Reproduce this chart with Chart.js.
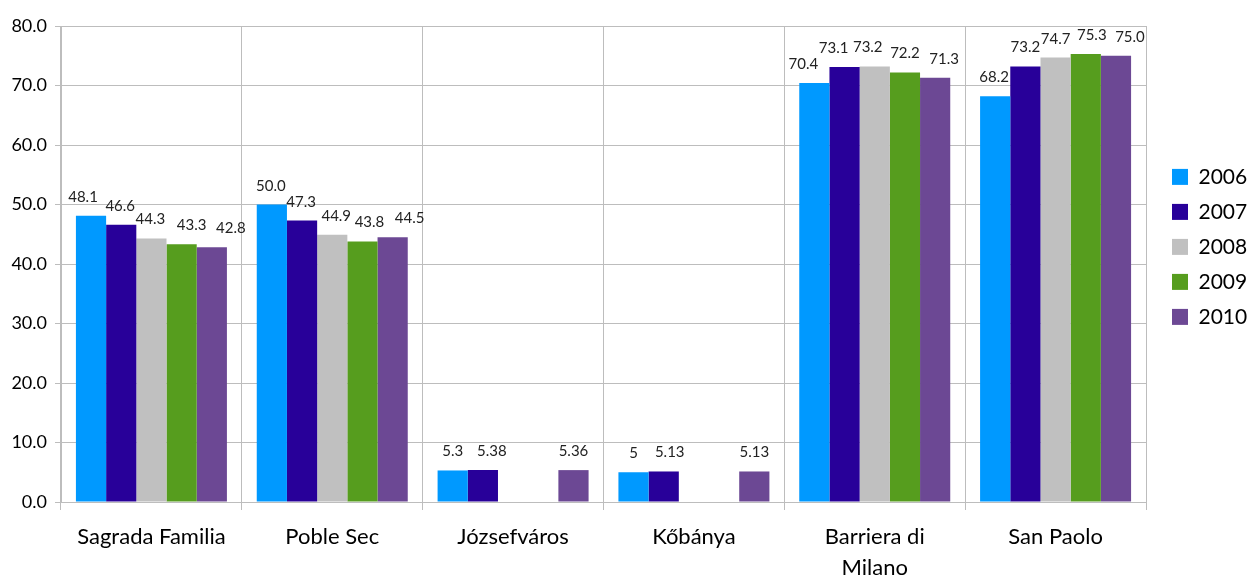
<!DOCTYPE html>
<html>
<head>
<meta charset="utf-8">
<script src="https://cdn.jsdelivr.net/npm/chart.js@4/dist/chart.umd.min.js"></script>
<style>
  html, body { margin: 0; padding: 0; background: #fff; }
  #wrap { width: 1248px; height: 576px; }
</style>
</head>
<body>
<div id="wrap"><canvas id="chart" width="1248" height="576"></canvas></div>
<script>
// Districts and yearly values
const districts = ['Sagrada Familia', 'Poble Sec', 'Józsefváros', 'Kőbánya', ['Barriera di', 'Milano'], 'San Paolo'];
const years = ['2006', '2007', '2008', '2009', '2010'];
const v2006 = [48.1, 50.0, 5.3, 5, 70.4, 68.2];
const v2007 = [46.6, 47.3, 5.38, 5.13, 73.1, 73.2];
const v2008 = [44.3, 44.9, null, null, 73.2, 74.7];
const v2009 = [43.3, 43.8, null, null, 72.2, 75.3];
const v2010 = [42.8, 44.5, 5.36, 5.13, 71.3, 75.0];
// decimals shown in the value labels (null = as entered)
const labelDigits = [1, 1, null, null, 1, 1];
const yTicks = [0, 10, 20, 30, 40, 50, 60, 70, 80];

const colors = ['#0099FF', '#280099', '#C0C0C0', '#569D1E', '#6C4894'];
const FONT = 'Lato, "Open Sans", sans-serif';
const GRID = '#BDBDBD';

// sideways nudge (px) of each value label so neighbours don't collide
const labelNudge = [
    [-8, -1, 0, 0, -11, -1],
    [-1, -1, 9, 6, -11, 0],
    [-1, 4, 0, 0, -7, 0],
    [10, 7, 0, 0, 0, 6],
    [19, 17, 0, 0, 9, 14]
];

// Value labels above each bar
const valueLabels = {
    id: 'valueLabels',
    afterDatasetsDraw(chart) {
        const ctx = chart.ctx;
        ctx.save();
        ctx.font = '15px ' + FONT;
        ctx.fillStyle = '#222';
        ctx.textAlign = 'center';
        ctx.textBaseline = 'alphabetic';
        chart.data.datasets.forEach((ds, di) => {
            const meta = chart.getDatasetMeta(di);
            meta.data.forEach((bar, i) => {
                const v = ds.data[i];
                if (v === null) return;
                const d = labelDigits[i];
                const txt = d === null ? String(v) : v.toFixed(d);
                ctx.fillText(txt, bar.x + labelNudge[di][i], bar.y - 14);
            });
        });
        ctx.restore();
    }
};

const series = [v2006, v2007, v2008, v2009, v2010];

new Chart(document.getElementById('chart'), {
    type: 'bar',
    data: {
        labels: districts,
        datasets: series.map((vals, i) => ({
            label: years[i],
            data: vals,
            backgroundColor: colors[i],
            borderWidth: 0,
            categoryPercentage: 0.835,
            barPercentage: 1.0
        }))
    },
    options: {
        responsive: false,
        animation: false,
        layout: { padding: { top: 26, right: 0, left: 0, bottom: 0 } },
        plugins: {
            legend: {
                position: 'right',
                align: 'start',
                maxWidth: 90,
                title: { display: true, text: '', padding: { top: 112, bottom: 0 } },
                labels: {
                    boxWidth: 16,
                    boxHeight: 16,
                    padding: 14,
                    color: '#000',
                    font: { family: FONT, size: 21 }
                }
            },
            tooltip: { enabled: false }
        },
        scales: {
            x: {
                offset: true,
                grid: {
                    offset: true,
                    color: GRID,
                    tickLength: 8,
                    drawTicks: true
                },
                border: { color: GRID },
                ticks: {
                    color: '#000',
                    padding: 12,
                    maxRotation: 0,
                    autoSkip: false,
                    font: { family: FONT, size: 22, lineHeight: 1.4 }
                },
                afterFit: s => { s.height = 74; }
            },
            y: {
                min: 0,
                max: 80,
                afterBuildTicks: s => { s.ticks = yTicks.map(v => ({ value: v })); },
                grid: { color: GRID, tickLength: 6 },
                border: { color: GRID },
                ticks: {
                    color: '#000',
                    padding: 8,
                    font: { family: FONT, size: 18 },
                    callback: v => Number(v).toFixed(1)
                },
                afterFit: s => { s.width = 61; }
            },
            // empty gap between the plot and the legend
            gap: {
                position: 'right',
                display: true,
                grid: { display: false, drawTicks: false },
                border: { display: false },
                ticks: { display: false },
                afterFit: s => { s.width = 12; }
            }
        }
    },
    plugins: [valueLabels]
});
</script>
</body>
</html>
